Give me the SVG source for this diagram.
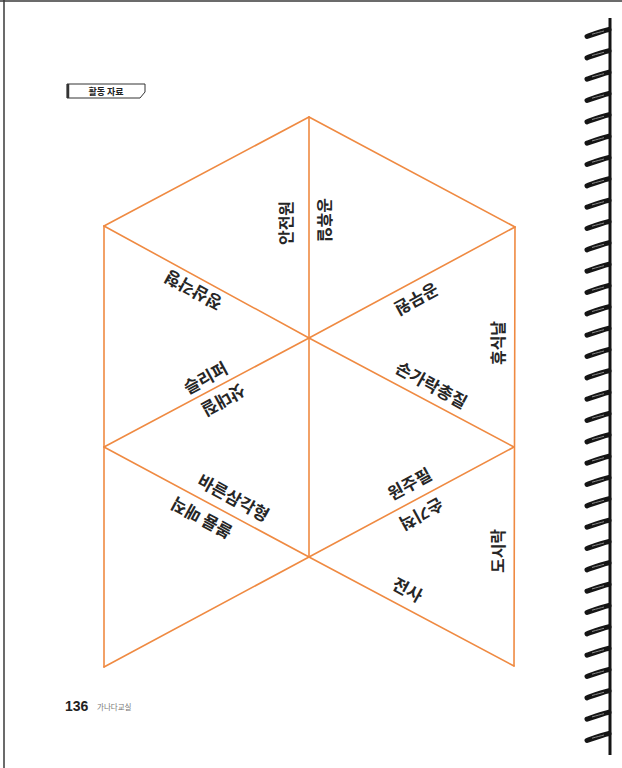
<svg xmlns="http://www.w3.org/2000/svg" width="622" height="768" viewBox="0 0 622 768">
<defs>
<style>
.edge{stroke:#EF8A42;stroke-width:1.6;fill:none;stroke-linecap:round}
.lbl{font-family:"Noto Sans CJK KR","Noto Sans",sans-serif;font-weight:700;font-size:16px;fill:#262626;text-anchor:middle;dominant-baseline:central}
.d{font-size:17px}
.frame{stroke:#3a3a3a;stroke-width:1.5;fill:none}
</style>
<g id="coil">
<path d="M0,3.5 C7,1 15,-2 22,-3.5" stroke="#151515" stroke-width="5" stroke-linecap="round" fill="none"/>
<path d="M5,1.2 C10,-0.2 14,-1.2 17,-2" stroke="#8a8a8a" stroke-width="1" fill="none"/>
</g>
</defs>
<rect width="622" height="768" fill="#ffffff"/>

<g id="page-frame">
<line class="frame" x1="0" y1="1" x2="622" y2="1"/>
<line class="frame" x1="4" y1="0" x2="4" y2="768"/>
</g>

<g id="binding">
<rect x="608.5" y="18" width="3" height="737" fill="#141414"/>
<use href="#coil" x="587" y="33"/>
<use href="#coil" x="587" y="54.3"/>
<use href="#coil" x="587" y="75.7"/>
<use href="#coil" x="587" y="97"/>
<use href="#coil" x="587" y="118.3"/>
<use href="#coil" x="587" y="139.7"/>
<use href="#coil" x="587" y="161"/>
<use href="#coil" x="587" y="182.3"/>
<use href="#coil" x="587" y="203.7"/>
<use href="#coil" x="587" y="225"/>
<use href="#coil" x="587" y="246.3"/>
<use href="#coil" x="587" y="267.7"/>
<use href="#coil" x="587" y="289"/>
<use href="#coil" x="587" y="310.3"/>
<use href="#coil" x="587" y="331.7"/>
<use href="#coil" x="587" y="353"/>
<use href="#coil" x="587" y="374.3"/>
<use href="#coil" x="587" y="395.7"/>
<use href="#coil" x="587" y="417"/>
<use href="#coil" x="587" y="438.3"/>
<use href="#coil" x="587" y="459.7"/>
<use href="#coil" x="587" y="481"/>
<use href="#coil" x="587" y="502.3"/>
<use href="#coil" x="587" y="523.7"/>
<use href="#coil" x="587" y="545"/>
<use href="#coil" x="587" y="566.3"/>
<use href="#coil" x="587" y="587.7"/>
<use href="#coil" x="587" y="609"/>
<use href="#coil" x="587" y="630.3"/>
<use href="#coil" x="587" y="651.7"/>
<use href="#coil" x="587" y="673"/>
<use href="#coil" x="587" y="694.3"/>
<use href="#coil" x="587" y="715.7"/>
<use href="#coil" x="587" y="737"/>
</g>

<g id="activity-tag">
<path d="M67,84 H145 V92 L140,98 H67 Z" fill="#fff" stroke="#333" stroke-width="1"/>
<line x1="68" y1="84" x2="68" y2="98" stroke="#333" stroke-width="2.5"/>
<text x="106" y="91.5" style="font-family:'Noto Sans CJK KR','Noto Sans',sans-serif;font-weight:700;font-size:9px;fill:#222;text-anchor:middle;dominant-baseline:central">활동 자료</text>
</g>

<g id="connectors">
<line class="edge" x1="309" y1="117" x2="104" y2="226"/>
<line class="edge" x1="309" y1="117" x2="515" y2="227"/>
<line class="edge" x1="104" y1="226" x2="104" y2="667"/>
<line class="edge" x1="515" y1="227" x2="514" y2="666"/>
<line class="edge" x1="309" y1="117" x2="309" y2="557"/>
<line class="edge" x1="104" y1="226" x2="309" y2="338"/>
<line class="edge" x1="309" y1="338" x2="515" y2="227"/>
<line class="edge" x1="309" y1="338" x2="104" y2="447"/>
<line class="edge" x1="309" y1="338" x2="514" y2="447"/>
<line class="edge" x1="104" y1="447" x2="309" y2="557"/>
<line class="edge" x1="514" y1="447" x2="309" y2="557"/>
<line class="edge" x1="309" y1="557" x2="104" y2="667"/>
<line class="edge" x1="309" y1="557" x2="514" y2="666"/>
</g>

<g id="piece-1">
<text class="lbl" transform="translate(285,223) rotate(-90)">안전원</text>
</g>
<g id="piece-2">
<text class="lbl" transform="translate(326,220) rotate(90)">공휴일</text>
</g>
<g id="piece-3">
<text class="lbl d" transform="translate(193,291) rotate(208.6)">정삼각형</text>
<text class="lbl d" transform="translate(205,377) rotate(-28.6)">슬리퍼</text>
</g>
<g id="piece-4">
<text class="lbl d" transform="translate(417,300) rotate(151.4)">공무원</text>
<text class="lbl" transform="translate(497,343) rotate(-90)">휴식날</text>
<text class="lbl d" transform="translate(432,384) rotate(28.6)">손가락총질</text>
</g>
<g id="piece-5">
<text class="lbl d" transform="translate(224,401) rotate(151.4)">삿대질</text>
<text class="lbl d" transform="translate(234,497) rotate(28.6)">바른삼각형</text>
</g>
<g id="piece-6">
<text class="lbl d" transform="translate(409,483) rotate(-28.6)">원주필</text>
</g>
<g id="piece-7">
<text class="lbl d" transform="translate(201,519) rotate(208.6)">볼륨 매직</text>
</g>
<g id="piece-8">
<text class="lbl d" transform="translate(422,515) rotate(151.4)">손기척</text>
<text class="lbl" transform="translate(497,551) rotate(-90)">도시락</text>
<text class="lbl d" transform="translate(408,589) rotate(28.6)">전사</text>
</g>

<g id="footer">
<text x="65" y="711" style="font-family:'Liberation Sans',Arial,sans-serif;font-weight:700;font-size:14px;fill:#222">136</text>
<text x="97" y="710" style="font-family:'Noto Sans CJK KR','Noto Sans',sans-serif;font-size:7.5px;fill:#777">가나다교실</text>
</g>
</svg>
